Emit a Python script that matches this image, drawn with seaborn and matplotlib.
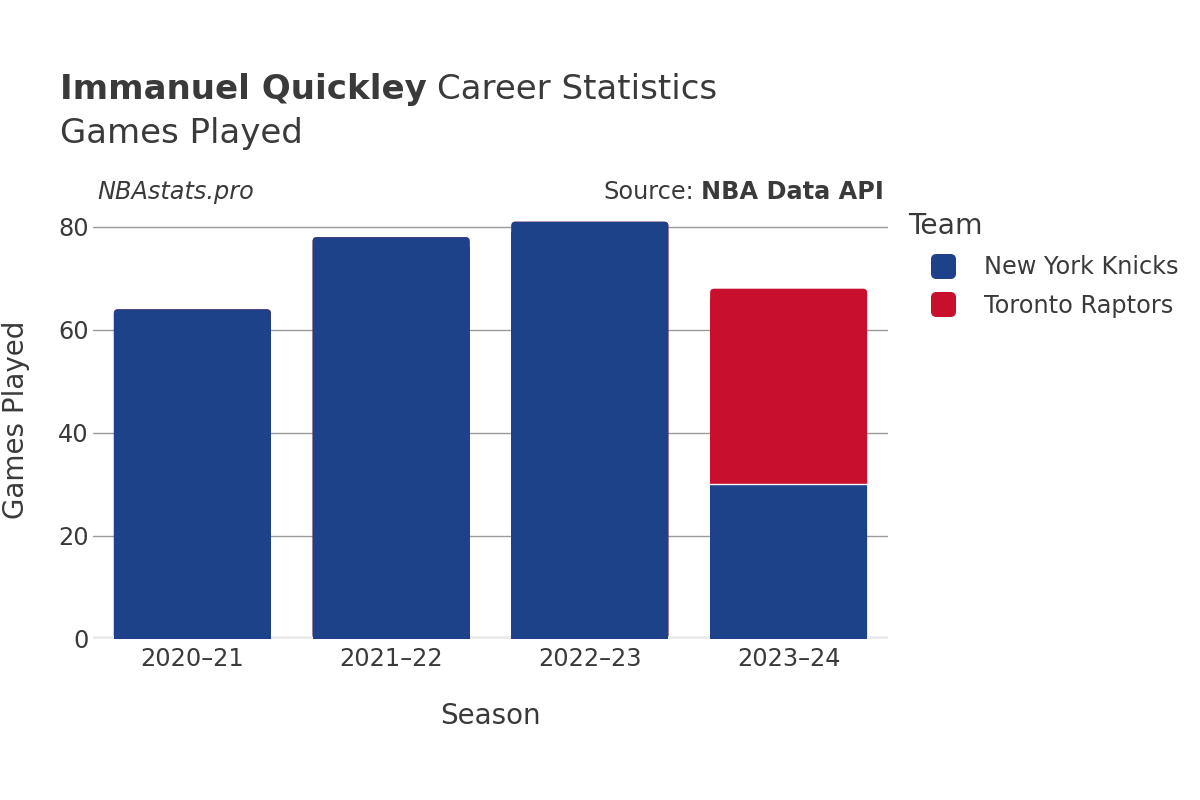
import matplotlib
matplotlib.use("Agg")
import matplotlib.pyplot as plt
import seaborn as sns
import pandas as pd
import numpy as np
from matplotlib.patches import FancyBboxPatch, BoxStyle
from matplotlib.lines import Line2D

seasons = ["2020\u201321", "2021\u201322", "2022\u201323", "2023\u201324"]
knicks = [64, 78, 81, 30]
raptors = [0, 0, 0, 38]
teams = ["New York Knicks", "Toronto Raptors"]
colors = ["#1D428A", "#C8102E"]

totals = [k + r for k, r in zip(knicks, raptors)]
df = pd.DataFrame({"Season": seasons, "Knicks": knicks, "Total": totals})

sns.set_theme(style="white")
plt.rcParams['font.family'] = ['DejaVu Sans']
txt = "#3a3a3a"

fig = plt.figure(figsize=(12, 8), dpi=100)
ax = fig.add_axes([0.0775, 0.20125, 0.6625, 0.53125])

sns.barplot(data=df, x="Season", y="Total", color=colors[1], saturation=1,
            width=0.79, edgecolor="none", linewidth=0, ax=ax, zorder=3)
n_red = len(ax.patches)
sns.barplot(data=df, x="Season", y="Knicks", color=colors[0], saturation=1,
            width=0.79, edgecolor="none", linewidth=0, ax=ax, zorder=3)

ax.set_xlim(-0.5, 3.5)
ax.set_ylim(0, 82.5)

# rounded tops for the top segment of each stack
px_x = 4 / 198.75
aspect = (1 / 5.15) / (1 / 198.75)
patches = list(ax.patches)
for i, p in enumerate(patches):
    is_red = i < n_red
    idx = i if is_red else i - n_red
    top = is_red or raptors[idx] == 0
    x, y, w, h = p.get_x(), p.get_y(), p.get_width(), p.get_height()
    z = 3 if is_red else 4
    p.set_zorder(z)
    if top and h > 0:
        rb = FancyBboxPatch((x, y), w, h,
                            boxstyle=BoxStyle.Round(pad=0, rounding_size=px_x),
                            mutation_aspect=aspect, facecolor=p.get_facecolor(),
                            edgecolor="none", zorder=z)
        ax.add_patch(rb)
        p.set_height(h - 2)
    if not is_red and raptors[idx] > 0:
        ax.plot([x, x + w], [y + h, y + h], color="white", lw=1, zorder=5)

ax.set_yticks([0, 20, 40, 60, 80])
ax.yaxis.grid(True, color="#9a9a9a", linewidth=1)
ax.set_axisbelow(True)
for s in ax.spines.values():
    s.set_visible(False)
ax.axhline(0, color="#ebebeb", linewidth=4, zorder=2)
ax.tick_params(axis="y", length=0, labelsize=17.3, colors=txt, pad=3)
ax.tick_params(axis="x", length=0, labelsize=17.3, colors=txt, pad=6)
ax.set_xlabel("Season", fontsize=20, color=txt, labelpad=22)
ax.set_ylabel("Games Played", fontsize=20, color=txt)
ax.yaxis.set_label_coords(30 / 1200, 1 - 420 / 800, transform=fig.transFigure)

# Title
t1 = fig.text(0.05, 0.876, "Immanuel Quickley", fontsize=24.5, fontweight="bold",
              color=txt, va="baseline")
fig.canvas.draw()
bb = t1.get_window_extent()
fig.text((bb.x1 + 10) / 1200, 0.876, "Career Statistics", fontsize=24.5,
         color=txt, va="baseline")
fig.text(0.05, 0.821, "Games Played", fontsize=24.5, color=txt, va="baseline")

fig.text(97 / 1200, 0.751, "NBAstats.pro", fontsize=17.3, style="italic",
         color=txt, va="baseline")
s2 = fig.text(884 / 1200, 0.751, "NBA Data API", fontsize=17.3, fontweight="bold",
              color=txt, va="baseline", ha="right")
fig.canvas.draw()
bb2 = s2.get_window_extent()
fig.text((bb2.x0 - 7) / 1200, 0.751, "Source:", fontsize=17.3, color=txt,
         va="baseline", ha="right")

# Legend
fig.text(908 / 1200, 1 - 226 / 800, "Team", fontsize=20.3, color=txt, va="center")
marker_path = BoxStyle.Round(pad=0, rounding_size=0.2)(-0.5, -0.5, 1, 1, 1)
handles = [Line2D([], [], linestyle="none", marker=marker_path, markersize=17,
                  markerfacecolor=c, markeredgecolor=c, label=t)
           for c, t in zip(colors, teams)]
leg = fig.legend(handles=handles, loc="upper left",
                 bbox_to_anchor=(931 / 1200, 1 - 255 / 800), frameon=False,
                 fontsize=17.3, handlelength=1.0, handletextpad=1.2,
                 labelspacing=0.62, borderaxespad=0, borderpad=0)
for t in leg.get_texts():
    t.set_color(txt)

fig.savefig("out.png", dpi=100, facecolor="white")
